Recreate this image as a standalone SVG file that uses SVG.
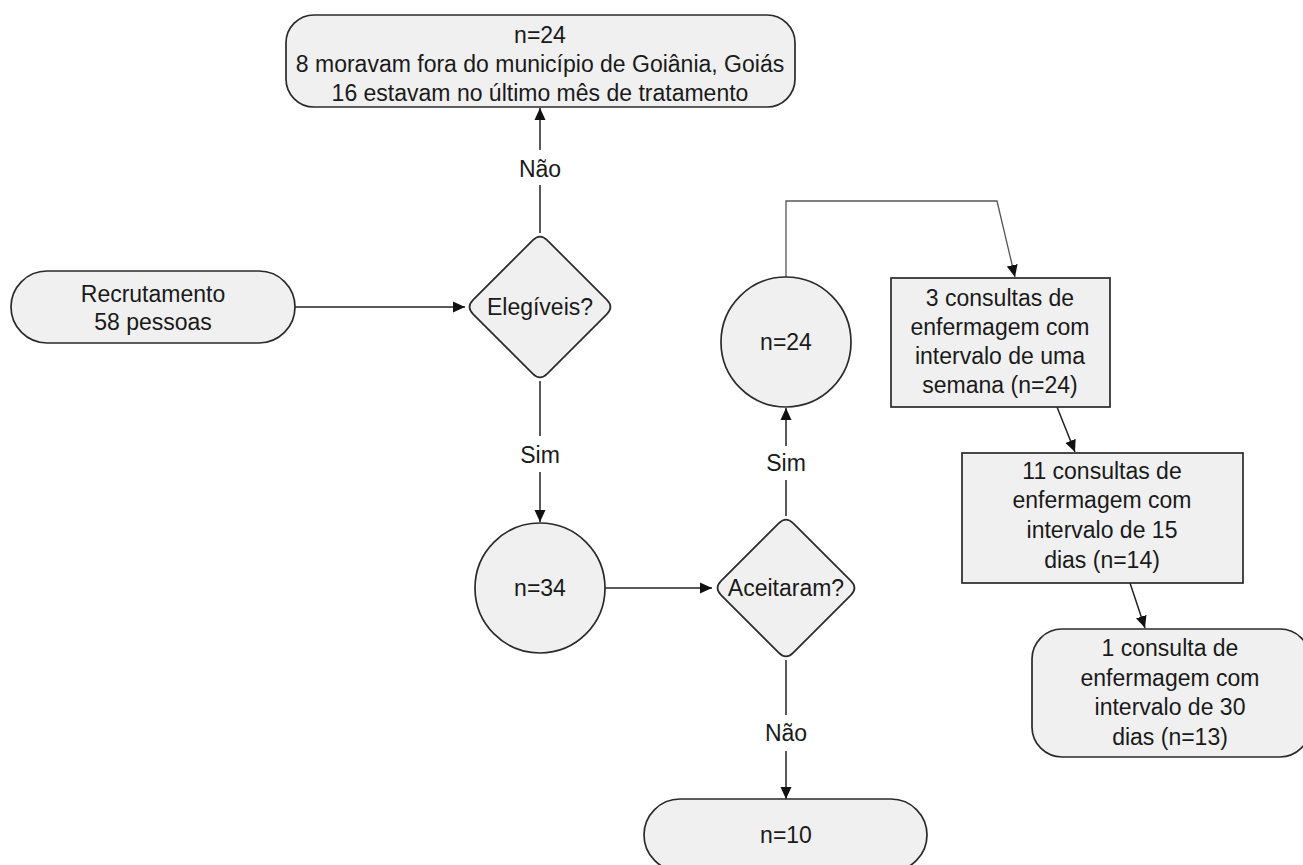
<svg xmlns="http://www.w3.org/2000/svg" width="1303" height="865" viewBox="0 0 1303 865">
<defs>
<marker id="arr" viewBox="0 0 12 12" refX="12" refY="6" markerWidth="12" markerHeight="12" markerUnits="userSpaceOnUse" orient="auto">
<path d="M0,0.5 L12,6 L0,11.5 Z" fill="#111"/>
</marker>
<style>
.shape{fill:#f0f0f0;stroke:#2a2a2a;stroke-width:1.7}
.t{font-family:"Liberation Sans",Arial,sans-serif;font-size:23px;fill:#1a1a1a;text-anchor:middle;dominant-baseline:central}
.c{fill:none;stroke:#222;stroke-width:1.5}
.c2{fill:none;stroke:#555;stroke-width:1.3}
</style>
</defs>
<rect width="1303" height="865" fill="#fff"/>
<g id="connectors">
<line class="c" x1="295" y1="307" x2="465" y2="307" marker-end="url(#arr)"/>
<line class="c" x1="540" y1="233" x2="540" y2="185"/>
<line class="c" x1="540" y1="150" x2="540" y2="108" marker-end="url(#arr)"/>
<text class="t" x="540" y="169">Não</text>
<line class="c" x1="540" y1="381" x2="540" y2="436"/>
<line class="c" x1="540" y1="472" x2="540" y2="522" marker-end="url(#arr)"/>
<text class="t" x="540" y="455">Sim</text>
<line class="c" x1="605" y1="588" x2="712" y2="588" marker-end="url(#arr)"/>
<line class="c" x1="786" y1="516" x2="786" y2="480"/>
<line class="c" x1="786" y1="446" x2="786" y2="408" marker-end="url(#arr)"/>
<text class="t" x="786" y="463">Sim</text>
<line class="c" x1="786" y1="660" x2="786" y2="715"/>
<line class="c" x1="786" y1="751" x2="786" y2="799" marker-end="url(#arr)"/>
<text class="t" x="786" y="733">Não</text>
<polyline class="c2" points="786,277 786,201 997,201 1015,277" marker-end="url(#arr)"/>
<line class="c" x1="1057" y1="407" x2="1075" y2="452" marker-end="url(#arr)"/>
<line class="c" x1="1130" y1="583" x2="1145" y2="628" marker-end="url(#arr)"/>
</g>
<g id="excluded">
<rect class="shape" x="286" y="15" width="509" height="92" rx="28" ry="28"/>
<text class="t" x="540" y="35">n=24</text>
<text class="t" x="540" y="64">8 moravam fora do município de Goiânia, Goiás</text>
<text class="t" x="540" y="93">16 estavam no último mês de tratamento</text>
</g>
<g id="recrutamento">
<rect class="shape" x="11" y="271" width="284" height="72" rx="36" ry="36"/>
<text class="t" x="153" y="294">Recrutamento</text>
<text class="t" x="153" y="322">58 pessoas</text>
</g>
<g id="elegiveis">
<path class="shape" d="M547.1,240.1 L606.9,299.9 Q614,307 606.9,314.1 L547.1,373.9 Q540,381 532.9,373.9 L473.1,314.1 Q466,307 473.1,299.9 L532.9,240.1 Q540,233 547.1,240.1 Z"/>
<text class="t" x="540" y="307">Elegíveis?</text>
</g>
<g id="n34">
<circle class="shape" cx="540" cy="588" r="65"/>
<text class="t" x="540" y="588">n=34</text>
</g>
<g id="aceitaram">
<path class="shape" d="M793.1,523.1 L850.9,580.9 Q858,588 850.9,595.1 L793.1,652.9 Q786,660 778.9,652.9 L721.1,595.1 Q714,588 721.1,580.9 L778.9,523.1 Q786,516 793.1,523.1 Z"/>
<text class="t" x="786" y="588">Aceitaram?</text>
</g>
<g id="n24">
<circle class="shape" cx="786" cy="342" r="65"/>
<text class="t" x="786" y="342">n=24</text>
</g>
<g id="n10">
<rect class="shape" x="644" y="799" width="283" height="72" rx="36" ry="36"/>
<text class="t" x="786" y="835">n=10</text>
</g>
<g id="semana">
<rect class="shape" x="891" y="278" width="219" height="129"/>
<text class="t" x="1000" y="298">3 consultas de</text>
<text class="t" x="1000" y="327">enfermagem com</text>
<text class="t" x="1000" y="356">intervalo de uma</text>
<text class="t" x="1000" y="385">semana (n=24)</text>
</g>
<g id="quinze">
<rect class="shape" x="962" y="453" width="281" height="130"/>
<text class="t" x="1102" y="471">11 consultas de</text>
<text class="t" x="1102" y="500">enfermagem com</text>
<text class="t" x="1102" y="530">intervalo de 15</text>
<text class="t" x="1102" y="560">dias (n=14)</text>
</g>
<g id="trinta">
<rect class="shape" x="1032" y="629" width="278" height="128" rx="30" ry="30"/>
<text class="t" x="1170" y="648">1 consulta de</text>
<text class="t" x="1170" y="678">enfermagem com</text>
<text class="t" x="1170" y="707">intervalo de 30</text>
<text class="t" x="1170" y="737">dias (n=13)</text>
</g>
</svg>
